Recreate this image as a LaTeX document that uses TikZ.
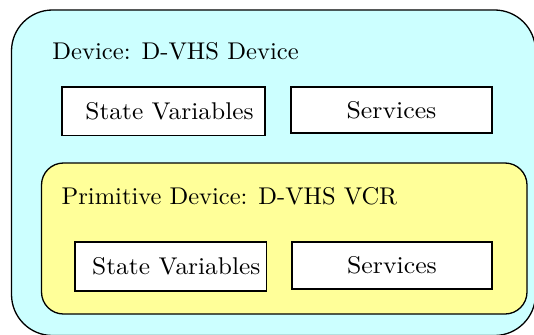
\documentclass[tikz,border=0pt]{standalone}
\usepackage{fontspec}
\usepackage{graphicx}
\definecolor{devcyan}{HTML}{CCFFFF}
\definecolor{primyellow}{HTML}{FFFF99}
\newcommand{\wtxt}[2]{\scalebox{#1}[2.42]{\normalsize #2}}
\tikzset{
  frame/.style={draw=black, line width=1.3pt},
  itembox/.style={draw=black, line width=1.3pt, fill=white, inner sep=0pt},
  title/.style={anchor=base west, inner sep=0pt},
}
\begin{document}
\begin{tikzpicture}[x=1pt,y=-1pt]
\useasboundingbox (0,0) rectangle (534,334);
\clip (0,0) rectangle (534,334);
% outer device
\draw[frame, fill=devcyan, rounded corners=41pt] (11.5,10) rectangle (535.5,335.5);
\node[title] (devtitle) at (52.2,60) {\wtxt{2.46}{Device: D-VHS Device}};
\node[itembox, minimum width=203pt, minimum height=48.7pt] (sv1) at (163.5,111.3) {\hspace{12pt}\wtxt{2.54}{State Variables}};
\node[itembox, minimum width=201pt, minimum height=46pt] (srv1) at (391.5,110) {\raisebox{-1.6pt}{\wtxt{2.58}{Services}}};
% primitive device
\draw[frame, fill=primyellow, rounded corners=22pt] (41.5,163) rectangle (527,314);
\node[title] (primtitle) at (61.5,204) {\wtxt{2.45}{Primitive Device: D-VHS VCR}};
\node[itembox, minimum width=191.5pt, minimum height=49pt] (sv2) at (170.7,266.5) {\hspace{11.2pt}\raisebox{-2pt}{\wtxt{2.54}{State Variables}}};
\node[itembox, minimum width=200pt, minimum height=47pt] (srv2) at (392,265.5) {\raisebox{-3.1pt}{\wtxt{2.58}{Services}}};
\end{tikzpicture}
\end{document}
